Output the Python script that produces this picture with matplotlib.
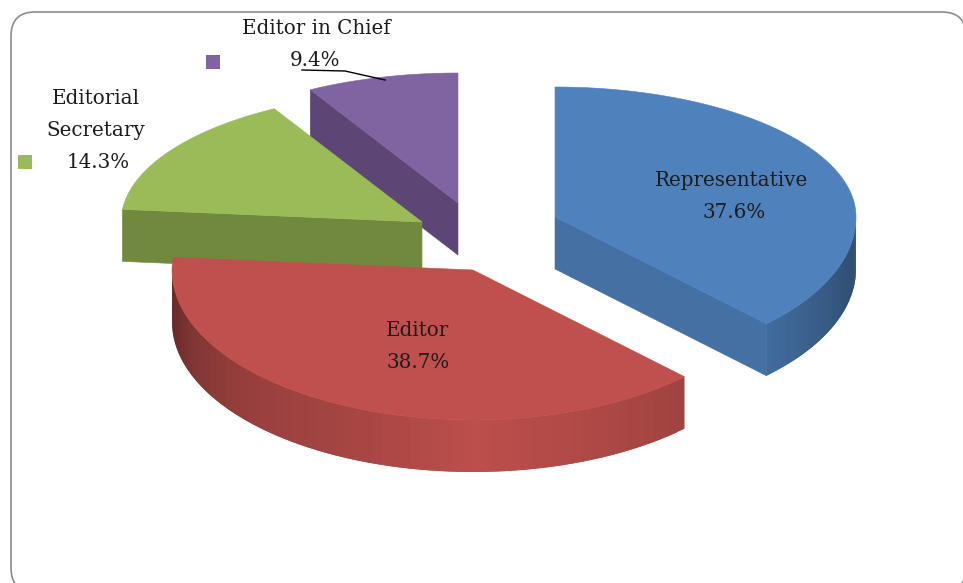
#!/usr/bin/env python3
import numpy as np
import matplotlib
matplotlib.use("Agg")
import matplotlib.pyplot as plt
from matplotlib.collections import PolyCollection
from matplotlib.patches import FancyBboxPatch, Polygon

# --- DATA ---------------------------------------------------------------
roles  = ["Representative", "Editor", "Editorial\nSecretary", "Editor in Chief"]
shares = [37.6, 38.7, 14.3, 9.4]

top_colors  = ["#4f81bd", "#c0504d", "#9bbb59", "#8064a2"]
cut_colors  = ["#4470a4", "#a5423f", "#71893f", "#5d4675"]

# --- LAYOUT (pixels) ----------------------------------------------------
WIDTH, HEIGHT = 963, 583
RX, RY_BACK, RY_FRONT = 301, 130, 150
DEPTH = 52
BACK_SQUEEZE = 0.84

# apex of every exploded slice
apex = [(555, 217), (473, 270), (422, 222), (458, 203)]
# drawing order, back to front
order = [3, 2, 1, 0]

label_pos = [(731, 181), (417, 331), (96, 98), (316, 29)]
value_pos = [(734, 212), (418, 362), (98, 162), (315, 61)]
key_pos   = {2: (25, 162), 3: (213, 62)}

# wall brightness by pie angle
shade_angle = [90, 110, 135, 160, 180, 200, 230, 250, 262, 275]
shade_value = [0.55, 0.66, 0.83, 0.92, 0.98, 0.88, 0.78, 0.66, 0.55, 0.50]


def project(theta, cx, cy):
    """theta in degrees clockwise from 12 o'clock -> pixel position."""
    t = np.radians(theta)
    s, c = np.sin(t), np.cos(t)
    back = c > 0
    phi = np.where(back, np.arctan2(BACK_SQUEEZE * s, c), t)
    x = cx + RX * np.sin(phi)
    ry = np.where(back, RY_BACK, RY_FRONT)
    y = cy - ry * np.cos(phi)
    return x, y


def scale_color(col, k):
    return tuple(np.clip(np.array(matplotlib.colors.to_rgb(col)) * k, 0, 1))


fig = plt.figure(figsize=(WIDTH / 100, HEIGHT / 100), dpi=100)
ax = fig.add_axes([0, 0, 1, 1])
ax.set_xlim(0, WIDTH)
ax.set_ylim(HEIGHT, 0)
ax.axis("off")

# chart frame, runs off the right and bottom of the canvas
ax.add_patch(FancyBboxPatch(
    (11, 12), 955, 580, boxstyle="round,pad=0,rounding_size=24",
    facecolor="white", edgecolor="#8c8c8c", lw=1.2
))

edges = np.concatenate([[0], np.cumsum(shares)]) * 3.6

for i in order:
    cx, cy = apex[i]
    t0, t1 = edges[i], edges[i + 1]

    # flat cut faces on the sides that turn towards the viewer
    for theta, visible in ((t0, np.sin(np.radians(t0)) < -1e-6),
                           (t1, np.sin(np.radians(t1)) > 1e-6)):
        if visible:
            x, y = project(theta, cx, cy)
            ax.add_patch(Polygon(
                [(cx, cy), (x, y), (x, y + DEPTH), (cx, cy + DEPTH)],
                closed=True, facecolor=cut_colors[i], edgecolor=cut_colors[i], lw=0.4
            ))

    # outer rim, only the near half shows; each band overlaps the next to hide seams
    lo, hi = max(t0, 90), min(t1, 270)
    if hi > lo:
        th = np.linspace(lo, hi, 70)
        quads, cols = [], []
        for a, b in zip(th[:-1], th[1:]):
            b2 = min(b + (b - a), hi)
            xa, ya = project(a, cx, cy)
            xb, yb = project(b2, cx, cy)
            quads.append([(xa, ya), (xb, yb), (xb, yb + DEPTH), (xa, ya + DEPTH)])
            k = np.interp((a + b) / 2, shade_angle, shade_value)
            cols.append(scale_color(top_colors[i], k))
        ax.add_collection(PolyCollection(quads, facecolors=cols, edgecolors="none"))

    # top face
    th = np.linspace(t0, t1, 160)
    x, y = project(th, cx, cy)
    pts = [(cx, cy)] + list(zip(x, y))
    ax.add_patch(Polygon(pts, closed=True, facecolor=top_colors[i],
                         edgecolor=top_colors[i], lw=0.4))

# leader line of the smallest slice
ax.plot([302, 345, 385], [70, 71, 80], color="black", lw=1.0)

# labels
FONT = dict(family="DejaVu Serif", fontsize=14.3, color="#1c1c1c", ha="center", va="center")
for i, role in enumerate(roles):
    lines = role.split("\n")
    lx, ly = label_pos[i]
    for k, line in enumerate(lines):
        ax.text(lx, ly + k * 32, line, **FONT)
    vx, vy = value_pos[i]
    ax.text(vx, vy, f"{shares[i]}%", **FONT)

for i, (kx, ky) in key_pos.items():
    ax.plot([kx], [ky], marker="s", ms=10, color=top_colors[i], mew=0, ls="none")

fig.savefig("out.png", dpi=100)
